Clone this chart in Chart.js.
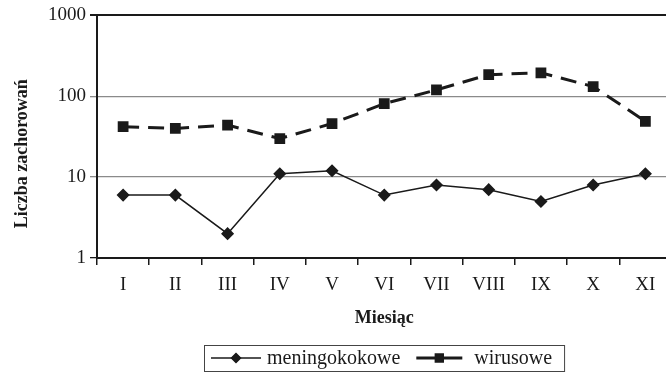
<!DOCTYPE html>
<html>
<head>
<meta charset="utf-8">
<script src="https://cdn.jsdelivr.net/npm/chart.js@4/dist/chart.umd.min.js"></script>
<style>
  html, body { margin: 0; padding: 0; background: #fff; overflow: hidden; }
  #wrap { width: 680px; height: 376px; position: relative; }
</style>
</head>
<body>
<div id="wrap"><canvas id="chart"></canvas></div>
<script>
// data (log scale)
const months = ["I", "II", "III", "IV", "V", "VI", "VII", "VIII", "IX", "X", "XI"];
const meningokokowe = [6, 6, 2, 11, 12, 6, 8, 7, 5, 8, 11];
const wirusowe = [42, 40, 44, 30, 46, 81, 120, 185, 195, 132, 49];
const yTicks = [1, 10, 100, 1000];
const yTitle = "Liczba zachorowań";

const serif = "'Liberation Serif', 'Times New Roman', serif";
const ink = "#1a1a1a";

// y title sits a bit below the plot centre in the original, so it is drawn by hand
const yTitlePlugin = {
    id: "yTitlePlugin",
    afterDraw(chart) {
        const ctx = chart.ctx;
        const area = chart.chartArea;
        ctx.save();
        ctx.translate(22, (area.top + area.bottom) / 2 + 17);
        ctx.rotate(-Math.PI / 2);
        ctx.font = "bold 18px " + serif;
        ctx.fillStyle = ink;
        ctx.textAlign = "center";
        ctx.textBaseline = "middle";
        ctx.fillText(yTitle, 0, 0);
        ctx.restore();
    }
};

// legend drawn as a boxed row under the x title
const boxedLegend = {
    id: "boxedLegend",
    afterDraw(chart) {
        const ctx = chart.ctx;
        const area = chart.chartArea;
        const items = chart.data.datasets;
        ctx.save();
        ctx.font = "20px " + serif;
        const sampleLen = [50, 46];
        const textGap = [6, 12];
        let total = 7 + 12;
        items.forEach((ds, i) => {
            total += sampleLen[i] + textGap[i] + ctx.measureText(ds.label).width;
            if (i < items.length - 1) total += 16;
        });
        const boxH = 26;
        const top = chart.height - boxH - 5;
        const left = Math.round((area.left + area.right) / 2 - total / 2);
        const cy = top + boxH / 2;

        ctx.strokeStyle = "#444";
        ctx.lineWidth = 1;
        ctx.strokeRect(left + 0.5, top + 0.5, total, boxH);

        let x = left + 7;
        items.forEach((ds, i) => {
            ctx.strokeStyle = ds.borderColor;
            ctx.lineWidth = ds.borderWidth;
            ctx.setLineDash([]);
            ctx.beginPath();
            ctx.moveTo(x, cy);
            ctx.lineTo(x + sampleLen[i], cy);
            ctx.stroke();
            Chart.helpers.drawPoint(ctx, {
                pointStyle: ds.pointStyle,
                radius: ds.pointRadius - 1,
                borderWidth: 1
            }, x + sampleLen[i] / 2, cy);
            ctx.fillStyle = ds.pointBackgroundColor;
            ctx.fill();
            x += sampleLen[i] + textGap[i];
            ctx.fillStyle = ink;
            ctx.textBaseline = "middle";
            ctx.textAlign = "left";
            ctx.fillText(ds.label, x, cy + 1);
            x += ctx.measureText(ds.label).width + 16;
        });
        ctx.restore();
    }
};

const chart = new Chart(document.getElementById("chart"), {
    type: "line",
    data: {
        labels: months,
        datasets: [{
            label: "meningokokowe",
            data: meningokokowe,
            borderColor: ink,
            borderWidth: 1.5,
            pointStyle: "rectRot",
            pointRadius: 5.5,
            pointBackgroundColor: ink,
            pointBorderColor: ink,
            tension: 0
        }, {
            label: "wirusowe",
            data: wirusowe,
            borderColor: ink,
            borderWidth: 3,
            borderDash: [16, 9],
            pointStyle: "rect",
            pointRadius: 5.5,
            pointBackgroundColor: ink,
            pointBorderColor: ink,
            tension: 0
        }]
    },
    options: {
        responsive: true,
        maintainAspectRatio: false,
        animation: false,
        layout: { padding: { top: 13, right: 8, left: 0, bottom: 0 } },
        plugins: {
            legend: { display: false },
            tooltip: { enabled: false }
        },
        scales: {
            x: {
                type: "category",
                offset: true,
                grid: {
                    display: true,
                    offset: true,
                    drawOnChartArea: false,
                    drawTicks: true,
                    tickLength: 7,
                    color: ink,
                    lineWidth: 1.5
                },
                border: { color: ink, width: 2 },
                ticks: {
                    color: ink,
                    padding: 9,
                    maxRotation: 0,
                    font: { family: serif, size: 19 }
                },
                title: {
                    display: true,
                    text: "Miesiąc",
                    color: ink,
                    padding: { top: 4, bottom: 47 },
                    font: { family: serif, size: 18, weight: "bold" }
                },
                afterFit(scale) { scale.height = 118; }
            },
            y: {
                type: "logarithmic",
                min: 1,
                max: 1000,
                grid: {
                    drawTicks: true,
                    tickLength: 7,
                    color: (c) => (c.tick && (c.tick.value === 1000 || c.tick.value === 1)) ? ink : "#8a8a8a",
                    lineWidth: (c) => (c.tick && c.tick.value === 1000) ? 2 : 1.3
                },
                border: { color: ink, width: 2 },
                ticks: {
                    color: ink,
                    padding: 4,
                    font: { family: serif, size: 19 },
                    callback: (v) => String(v)
                },
                afterBuildTicks(scale) {
                    scale.ticks = yTicks.map((v) => ({ value: v }));
                },
                afterFit(scale) { scale.width = 97; }
            }
        }
    },
    plugins: [yTitlePlugin, boxedLegend]
});
</script>
</body>
</html>
